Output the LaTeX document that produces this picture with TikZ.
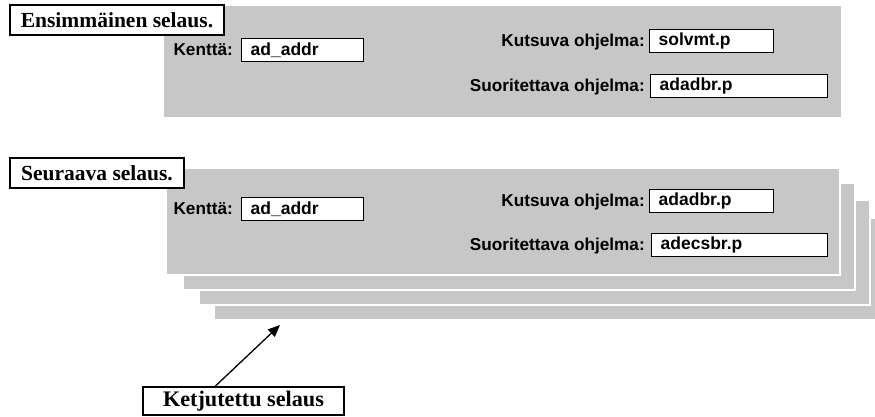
\documentclass[tikz,border=0pt]{standalone}
\usepackage{fontspec}
\setmainfont{Liberation Serif}
\newfontfamily\lsans{Liberation Sans}
\usetikzlibrary{arrows.meta}
\definecolor{dotgray}{gray}{0.78}
\tikzset{
  panel/.style={fill=dotgray, draw=white, line width=2.5pt},
  titlebox/.style={draw=black, fill=white, line width=1.1pt, inner sep=0pt,
    font=\fontsize{21.5}{24}\selectfont\bfseries},
  fieldbox/.style={draw=black, fill=white, line width=1.3pt, anchor=north west,
    inner xsep=9pt, inner ysep=0pt, align=left,
    font=\lsans\fontsize{17.5}{20}\selectfont\bfseries},
  lbl/.style={anchor=base east, inner sep=0pt,
    font=\lsans\fontsize{17.2}{20}\selectfont\bfseries},
  pointer/.style={line width=1.3pt, -{Triangle[length=12pt,width=10pt]}}
}
\begin{document}
\begin{tikzpicture}[x=1pt,y=-1pt]
\useasboundingbox (0,0) rectangle (875,417);
% ---------- first browse ----------
\fill[panel] (163,5) rectangle (842,118);
\node[titlebox, minimum width=214pt, minimum height=30pt] (t1) at (117,20) {Ensimmäinen selaus.};
\node[lbl] (k1l) at (233,55.5) {Kenttä:};
\node[fieldbox, minimum height=23pt, text width=104pt] (k1) at (241,38) {ad\_addr};
\node[lbl] (c1l) at (645,46.5) {Kutsuva ohjelma:};
\node[fieldbox, minimum height=23pt, text width=106pt] (c1) at (649,29) {solvmt.p};
\node[lbl] (s1l) at (645,91.5) {Suoritettava ohjelma:};
\node[fieldbox, minimum height=23pt, text width=159pt] (s1) at (650,74) {adadbr.p};
% ---------- next browse ----------
\fill[panel] (214,218) rectangle (878,320);
\fill[panel] (199,200) rectangle (870,305);
\fill[panel] (183,183) rectangle (855,290);
\fill[panel] (166,168) rectangle (840,275);
\node[titlebox, minimum width=174pt, minimum height=30pt] (t2) at (97,173) {Seuraava selaus.};
\node[lbl] (k2l) at (233,214.5) {Kenttä:};
\node[fieldbox, minimum height=23pt, text width=104pt] (k2) at (241,197) {ad\_addr};
\node[lbl] (c2l) at (645,206) {Kutsuva ohjelma:};
\node[fieldbox, minimum height=23pt, text width=106pt] (c2) at (649,188.5) {adadbr.p};
\node[lbl] (s2l) at (645,250.5) {Suoritettava ohjelma:};
\node[fieldbox, minimum height=23pt, text width=158pt] (s2) at (651,233) {adecsbr.p};
% ---------- chained browse ----------
\node[titlebox, minimum width=201pt, minimum height=28pt, font=\fontsize{22.2}{24}\selectfont\bfseries] (kj) at (243.5,401) {Ketjutettu selaus};
\coordinate (tip) at (280,325);
\draw[pointer] ([xshift=-28.5pt]kj.north) -- (tip);
\end{tikzpicture}
\end{document}
